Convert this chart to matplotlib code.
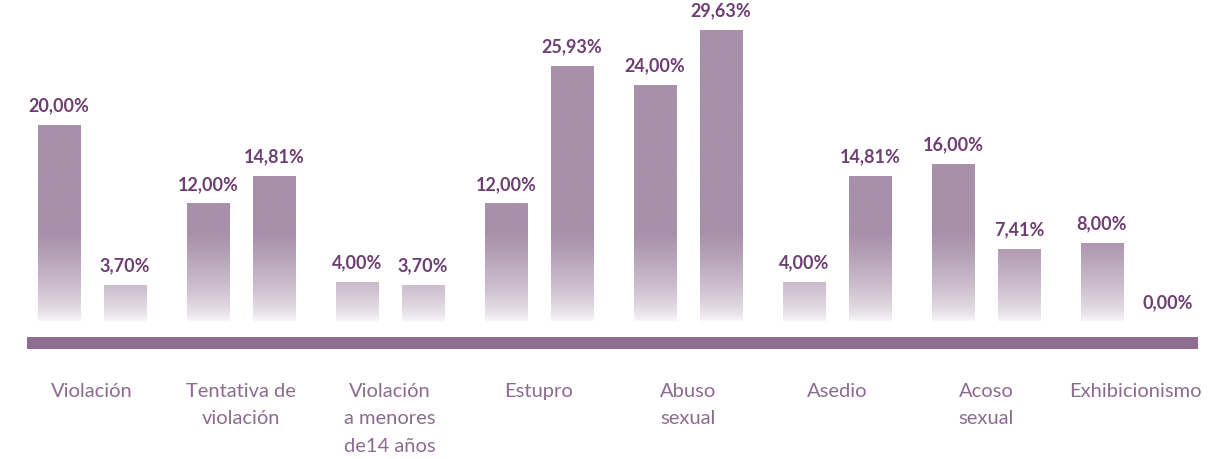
import numpy as np
import matplotlib
matplotlib.use("Agg")
from matplotlib import pyplot as plt
from matplotlib.colors import to_rgb


categories = ["Violación", "Tentativa de\nviolación", "Violación\na menores\nde14 años",
              "Estupro", "Abuso\nsexual", "Asedio", "Acoso\nsexual", "Exhibicionismo"]
serie_a = [20.00, 12.00, 4.00, 12.00, 24.00, 4.00, 16.00, 8.00]
serie_b = [3.70, 14.81, 3.70, 25.93, 29.63, 14.81, 7.41, 0.00]

BAR_COLOR = "#a890aa"
BASE_COLOR = "#8f6d91"
VALUE_COLOR = "#6e3f72"
CAT_COLOR = "#8d6b90"
FADE = 9.0    # values below this fade to white
PX = 9.85     # pixels per percent


def fmt(v):
    return ("%.2f" % v).replace(".", ",") + "%"


def gradient_bar(ax, x, w, v):
    if v <= 0:
        return
    n = 300
    ys = np.linspace(v, 0, n)
    t = np.clip(ys / FADE, 0, 1) ** 0.6
    top = np.array(to_rgb(BAR_COLOR))
    img = (1 - t)[:, None] * np.ones(3) + t[:, None] * top
    img = np.repeat(img[:, None, :], 2, axis=1)
    ax.imshow(img, extent=[x - w / 2, x + w / 2, 0, v], aspect="auto",
              interpolation="bilinear", zorder=2)


def main():
    plt.rcParams['font.family'] = ['Lato', 'DejaVu Sans']
    fig = plt.figure(figsize=(12.29, 4.6), dpi=100)
    ax = fig.add_axes([0, 0, 1, 1])
    ax.set_xlim(-0.617, 7.631)
    ax.set_ylim(-(460 - 323) / PX, 323 / PX)
    ax.axis("off")

    off, w = 0.2215, 0.282
    x = np.arange(len(categories))
    for i in x:
        for xx, v in ((i - off, serie_a[i]), (i + off, serie_b[i])):
            gradient_bar(ax, xx, w, v)
            ax.text(xx, v + 12 / PX, fmt(v), ha="center", va="bottom",
                    fontsize=13, fontweight="bold", color=VALUE_COLOR)
        ax.text(i, -60 / PX, categories[i], ha="center", va="top", fontsize=14.5,
                fontweight="normal", color=CAT_COLOR, linespacing=1.75)

    # baseline band
    ax.fill_between([-0.436, 7.423], -27 / PX, -15 / PX, color=BASE_COLOR, lw=0, zorder=3)

    fig.savefig("out.png", dpi=100)


if __name__ == "__main__":
    main()
